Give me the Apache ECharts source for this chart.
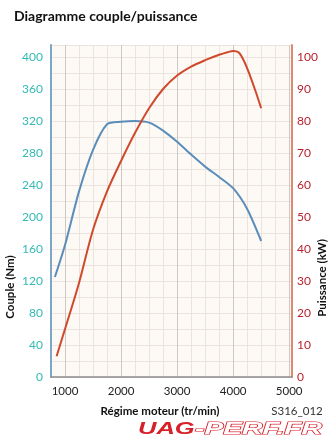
<!DOCTYPE html>
<html>
<head>
<meta charset="utf-8">
<script src="https://cdn.jsdelivr.net/npm/echarts@6/dist/echarts.min.js"></script>
<style>
  html, body { margin: 0; padding: 0; background: #ffffff; }
  #chart { width: 333px; height: 440px; }
</style>
</head>
<body>
<div id="chart"></div>
<script>
// Engine speed (tr/min) and torque (Nm)
const torqueRpm = [820, 1000, 1250, 1500, 1750, 2000, 2250, 2500, 2750, 3000, 3250, 3500, 3750, 4000, 4250, 4500];
const torqueNm  = [125, 165, 232, 284, 316, 319, 320, 318, 308, 294, 278, 263, 250, 236, 210, 170];

// Engine speed (tr/min) and power (kW)
const powerRpm = [850, 1000, 1250, 1500, 1750, 2000, 2250, 2500, 2750, 3000, 3250, 3500, 3750, 3900, 4000, 4100, 4200, 4300, 4400, 4500];
const powerKw  = [6.5, 15, 29.4, 46, 58, 67.5, 76.3, 84, 90, 94.2, 97, 99, 100.7, 101.5, 101.9, 101.4, 98.5, 94.2, 89.3, 84];

// Axis tick labels
const rpmLabels = [1000, 2000, 3000, 4000, 5000];
const torqueLabels = [0, 40, 80, 120, 160, 200, 240, 280, 320, 360, 400];
const powerLabels = [0, 10, 20, 30, 40, 50, 60, 70, 80, 90, 100];

const FONT = 'Lato, "Open Sans", sans-serif';
const LOGO_FONT = '"Liberation Sans", sans-serif';
const zip = (xs, ys) => xs.map((x, i) => [x, ys[i]]);

const chart = echarts.init(document.getElementById('chart'), null, { renderer: 'canvas' });

chart.setOption({
  backgroundColor: '#ffffff',
  animation: false,
  title: {
    text: 'Diagramme couple/puissance',
    left: 9, top: 4,
    textStyle: { fontFamily: FONT, fontWeight: 'bold', fontSize: 14, color: '#111111' }
  },
  grid: {
    left: 51, right: 41, top: 45, bottom: 63,
    show: true, backgroundColor: '#fdf9f5', borderWidth: 0
  },
  xAxis: {
    type: 'value',
    min: 750, max: 5050, interval: 250,
    axisLine: { show: true, lineStyle: { color: '#8c8c8c', width: 1.5 } },
    axisTick: { show: false },
    axisLabel: {
      margin: 8,
      fontFamily: FONT, fontSize: 11.5, color: '#222222',
      formatter: v => (rpmLabels.indexOf(v) >= 0 ? String(v) : '')
    },
    splitLine: {
      show: true,
      lineStyle: { color: ['#ece3de', '#cdc8c6', '#ece3de', '#ece3de'], width: 1 }
    }
  },
  yAxis: [
    {
      type: 'value',
      min: 0, max: 415, interval: 20,
      axisLine: { show: true, lineStyle: { color: '#7ea6c6', width: 2 } },
      axisTick: { show: false },
      axisLabel: {
        margin: 8,
        fontFamily: FONT, fontSize: 12, color: '#33bab5',
        formatter: v => (torqueLabels.indexOf(v) >= 0 ? String(v) : '')
      },
      splitLine: { show: true, lineStyle: { color: '#ece3de', width: 1 } }
    },
    {
      type: 'value',
      position: 'right',
      min: 0, max: 103.75, interval: 5,
      axisLine: { show: true, lineStyle: { color: '#dc8a72', width: 2 } },
      axisTick: { show: false },
      axisLabel: {
        margin: 5,
        fontFamily: FONT, fontSize: 12, color: '#b8232f',
        formatter: v => (powerLabels.indexOf(v) >= 0 ? String(v) : '')
      },
      splitLine: { show: false }
    }
  ],
  series: [
    {
      name: 'Couple',
      type: 'line',
      yAxisIndex: 0,
      data: zip(torqueRpm, torqueNm),
      smooth: 0.25,
      symbol: 'none',
      lineStyle: { color: '#5b8dba', width: 2 },
      z: 3
    },
    {
      name: 'Puissance',
      type: 'line',
      yAxisIndex: 1,
      data: zip(powerRpm, powerKw),
      smooth: 0.3,
      symbol: 'none',
      lineStyle: { color: '#cf4a2d', width: 2 },
      z: 4
    }
  ],
  graphic: [
    {
      type: 'text', x: 10, y: 287, rotation: Math.PI / 2,
      style: {
        text: 'Couple (Nm)', fontFamily: FONT, fontWeight: 'bold', fontSize: 11.5,
        fill: '#111111', align: 'center', verticalAlign: 'middle'
      }
    },
    {
      type: 'text', x: 322, y: 278, rotation: Math.PI / 2,
      style: {
        text: 'Puissance (kW)', fontFamily: FONT, fontWeight: 'bold', fontSize: 11.5,
        fill: '#111111', align: 'center', verticalAlign: 'middle'
      }
    },
    {
      type: 'text', x: 160, y: 411,
      style: {
        text: 'Régime moteur (tr/min)', fontFamily: FONT, fontWeight: 'bold', fontSize: 11.5,
        fill: '#111111', align: 'center', verticalAlign: 'middle'
      }
    },
    {
      type: 'text', x: 297, y: 411,
      style: {
        text: 'S316_012', fontFamily: FONT, fontSize: 11.5,
        fill: '#333333', align: 'center', verticalAlign: 'middle'
      }
    },
    // site logo, filled part then outlined part
    {
      type: 'text', x: 138, y: 429, scaleX: 1.5,
      style: {
        text: 'UAG', fontFamily: LOGO_FONT, fontWeight: 'bold', fontStyle: 'italic',
        fontSize: 17, fill: '#d6202a', align: 'left', verticalAlign: 'middle'
      }
    },
    {
      type: 'text', x: 195, y: 429, scaleX: 1.66,
      style: {
        text: '-PERF.FR', fontFamily: LOGO_FONT, fontWeight: 'bold', fontStyle: 'italic',
        fontSize: 17, fill: '#ffffff', stroke: '#d6202a', lineWidth: 1.2,
        align: 'left', verticalAlign: 'middle'
      }
    }
  ]
});
</script>
</body>
</html>
